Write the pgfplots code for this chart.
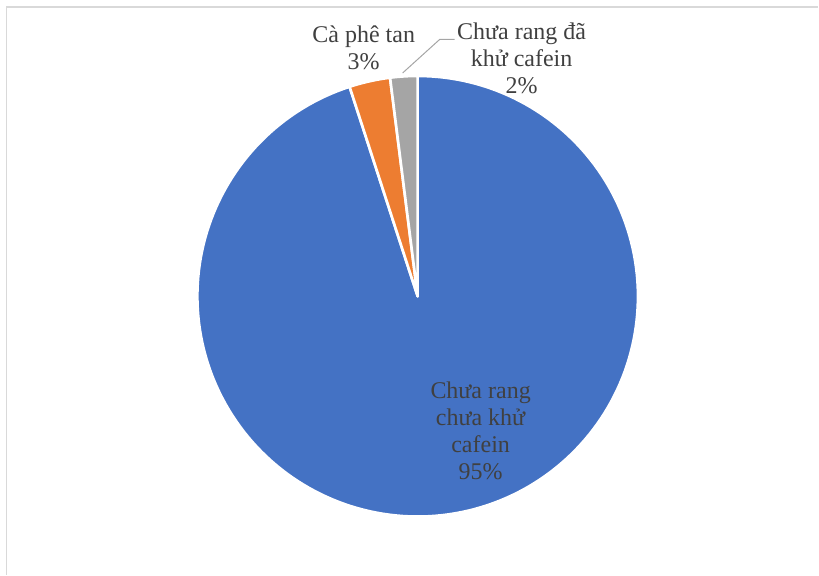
\documentclass[border=0pt]{standalone}
\usepackage{fontspec}
\setmainfont{Liberation Serif}
\usepackage{pgfplots}
\pgfplotsset{compat=1.18}
\definecolor{pieblue}{HTML}{4472C4}
\definecolor{pieorange}{HTML}{ED7D31}
\definecolor{piegray}{HTML}{A5A5A5}
\definecolor{txtgray}{HTML}{404040}
\definecolor{framegray}{HTML}{D9D9D9}
\tikzset{lbl/.style={font=\fontsize{18}{20.25}\selectfont, align=center, text=txtgray, inner sep=0pt}}
% shares (percent)
\def\vA{95}% Chua rang chua khu cafein
\def\vB{3}%  Ca phe tan
\def\vC{2}%  Chua rang da khu cafein
\pgfmathsetmacro\aA{90-3.6*\vA}
\pgfmathsetmacro\aB{\aA-3.6*\vB}
\pgfmathsetmacro\aC{\aB-3.6*\vC}
\def\cx{418}\def\cy{278.5}\def\R{220.5}
\begin{document}
\begin{tikzpicture}
\begin{axis}[
  scale only axis, width=614.25pt, height=431.25pt,
  xmin=0, xmax=819, ymin=0, ymax=575,
  hide axis, clip=false,
]
\path (axis cs:0,0) rectangle (axis cs:819,575);
\draw[framegray, line width=1pt] (axis cs:6.5,0) -- (axis cs:6.5,568) -- (axis cs:819,568);
\addplot[fill=pieblue, draw=white, line width=2pt, line join=round, domain=\aA:90, samples=200, variable=\t]
  ({\cx+\R*cos(t)}, {\cy+\R*sin(t)}) -- (axis cs:\cx,\cy) -- cycle;
\addplot[fill=pieorange, draw=white, line width=2pt, line join=round, domain=\aB:\aA, samples=20, variable=\t]
  ({\cx+\R*cos(t)}, {\cy+\R*sin(t)}) -- (axis cs:\cx,\cy) -- cycle;
\addplot[fill=piegray, draw=white, line width=2pt, line join=round, domain=\aC:\aB, samples=20, variable=\t]
  ({\cx+\R*cos(t)}, {\cy+\R*sin(t)}) -- (axis cs:\cx,\cy) -- cycle;
\draw[piegray, line width=0.75pt] (axis cs:455,535.5) -- (axis cs:440,535.5) -- (axis cs:403,502);
\node[lbl] at (axis cs:364,527) {Cà phê tan\\3\%};
\node[lbl] at (axis cs:522,517) {Chưa rang đã\\khử cafein\\2\%};
\node[lbl] at (axis cs:481,144) {Chưa rang\\chưa khử\\cafein\\95\%};
\end{axis}
\end{tikzpicture}
\end{document}
